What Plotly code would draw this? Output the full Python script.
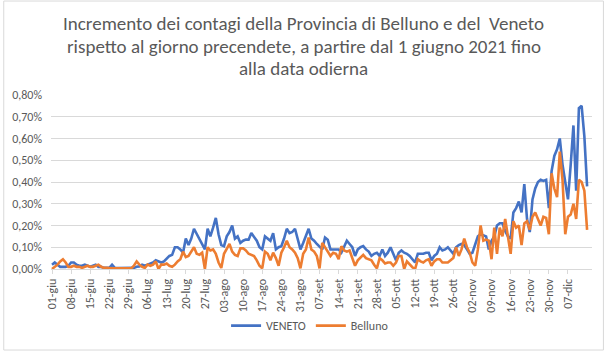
import pandas as pd
import plotly.graph_objects as go

# Daily increase (%) compared to the previous day, from 01-giu-2021
veneto = [
    0.02, 0.03, 0.02, 0.01, 0.01, 0.01, 0.015, 0.03, 0.03, 0.02,
    0.015, 0.015, 0.02, 0.015, 0.01, 0.015, 0.02, 0.01, 0.01, 0.005,
    0.005, 0.005, 0.02, 0.005, 0.004, 0.004, 0.004, 0.004, 0.004, 0.004,
    0.005, 0.01, 0.012, 0.02, 0.015, 0.02, 0.025, 0.03, 0.04, 0.035,
    0.03, 0.035, 0.05, 0.06, 0.065, 0.10, 0.10, 0.09, 0.075, 0.14,
    0.11, 0.14, 0.185, 0.16, 0.14, 0.11, 0.09, 0.185, 0.15, 0.19,
    0.235, 0.16, 0.11, 0.105, 0.15, 0.17, 0.20, 0.14, 0.15, 0.12,
    0.13, 0.135, 0.135, 0.165, 0.15, 0.13, 0.10, 0.09, 0.15, 0.14,
    0.13, 0.165, 0.09, 0.10, 0.105, 0.14, 0.185, 0.165, 0.17, 0.185,
    0.13, 0.09, 0.12, 0.15, 0.185, 0.14, 0.13, 0.115, 0.10, 0.09,
    0.145, 0.135, 0.09, 0.09, 0.09, 0.09, 0.075, 0.10, 0.13, 0.115,
    0.10, 0.06, 0.09, 0.10, 0.105, 0.09, 0.08, 0.06, 0.07, 0.075,
    0.06, 0.09, 0.06, 0.075, 0.10, 0.07, 0.04, 0.075, 0.085, 0.075,
    0.07, 0.06, 0.045, 0.03, 0.07, 0.07, 0.07, 0.075, 0.075, 0.04,
    0.06, 0.07, 0.10, 0.085, 0.09, 0.10, 0.085, 0.07, 0.10, 0.11,
    0.115, 0.11, 0.09, 0.07, 0.075, 0.11, 0.15, 0.16, 0.155, 0.15,
    0.09, 0.13, 0.15, 0.20, 0.21, 0.21, 0.175, 0.15, 0.14, 0.26,
    0.28, 0.31, 0.26, 0.39, 0.23, 0.17, 0.32, 0.37, 0.40, 0.41,
    0.405, 0.41, 0.28, 0.45, 0.52, 0.55, 0.60, 0.48, 0.40, 0.32,
    0.48, 0.66, 0.36, 0.74, 0.75, 0.61, 0.38,
]
belluno = [
    0.0, 0.01, 0.02, 0.035, 0.045, 0.03, 0.01, 0.01, 0.015, 0.01,
    0.01, 0.005, 0.01, 0.015, 0.01, 0.01, 0.015, 0.02, 0.01, 0.005,
    0.005, 0.003, 0.003, 0.003, 0.003, 0.003, 0.003, 0.003, 0.003, 0.003,
    0.015, 0.035, 0.02, 0.01, 0.005, 0.02, 0.015, 0.02, 0.035, 0.0,
    0.02, 0.02, 0.025, 0.015, 0.01, 0.02, 0.035, 0.045, 0.08, 0.055,
    0.06, 0.08, 0.10, 0.07, 0.065, 0.075, 0.0, 0.10, 0.085, 0.09,
    0.07, 0.03, 0.005, 0.07, 0.09, 0.115, 0.08, 0.065, 0.06, 0.095,
    0.095, 0.085, 0.07, 0.065, 0.06, 0.04, 0.015, 0.003, 0.08, 0.07,
    0.04, 0.075, 0.05, 0.015, 0.075, 0.10, 0.13, 0.10, 0.09, 0.075,
    0.05, 0.003, 0.07, 0.09, 0.145, 0.09, 0.08, 0.06, 0.003, 0.12,
    0.10, 0.08, 0.06, 0.075, 0.07, 0.045, 0.105, 0.085, 0.08, 0.085,
    0.05, 0.015, 0.04, 0.055, 0.065, 0.05, 0.045, 0.04, 0.02, 0.003,
    0.05, 0.04, 0.025, 0.03, 0.03, 0.015, 0.03, 0.06, 0.06, 0.0,
    0.035, 0.02, 0.008, 0.0, 0.045, 0.035, 0.03, 0.04, 0.045, 0.015,
    0.035, 0.045, 0.045, 0.03, 0.03, 0.03, 0.04, 0.05, 0.10, 0.06,
    0.09, 0.14, 0.10, 0.075, 0.03, 0.015, 0.09, 0.20, 0.13, 0.135,
    0.13, 0.045, 0.19, 0.07, 0.19, 0.15, 0.23, 0.14, 0.07, 0.22,
    0.19, 0.20, 0.11, 0.21, 0.22, 0.18, 0.24, 0.26, 0.23, 0.20,
    0.24, 0.235, 0.16, 0.44, 0.37, 0.33, 0.54, 0.41, 0.16, 0.24,
    0.25, 0.30, 0.23, 0.41, 0.40, 0.36, 0.18,
]
tick_labels = [
    "01-giu", "08-giu", "15-giu", "22-giu", "29-giu", "06-lug", "13-lug",
    "20-lug", "27-lug", "03-ago", "10-ago", "17-ago", "24-ago", "31-ago",
    "07-set", "14-set", "21-set", "28-set", "05-ott", "12-ott", "19-ott",
    "26-ott", "02-nov", "09-nov", "16-nov", "23-nov", "30-nov", "07-dic",
]
series_names = ["VENETO", "Belluno"]
title_lines = [
    "Incremento dei contagi della Provincia di Belluno e del  Veneto",
    "rispetto al giorno precendete, a partire dal 1 giugno 2021 fino",
    "alla data odierna",
]
start_date = "2021-06-01"

dates = pd.date_range(start_date, periods=len(veneto), freq="D")
tick_vals = pd.date_range(start_date, periods=len(tick_labels), freq="7D")

BLUE = "#4472C4"
ORANGE = "#ED7D31"
GRID = "#D9D9D9"
TXT = "#595959"
FONT = "Carlito, 'Liberation Sans Narrow', 'Arial Narrow', 'Liberation Sans', sans-serif"

fig = go.Figure()
fig.add_trace(go.Scatter(x=dates, y=[v / 100 for v in veneto], mode="lines",
                         name=series_names[0], line=dict(color=BLUE, width=2.6)))
fig.add_trace(go.Scatter(x=dates, y=[v / 100 for v in belluno], mode="lines",
                         name=series_names[1], line=dict(color=ORANGE, width=2.6)))

L, R, T, B = 48, 12, 95, 82
W, H = 604, 352
pw, ph = W - L - R, H - T - B

# title as three centred text lines
annotations = []
for i, line in enumerate(title_lines):
    y_px = 23.5 + i * 22.5  # centre of each line, from top
    annotations.append(dict(
        text=line, xref="paper", yref="paper",
        x=(W / 2 - L) / pw, y=1 + (T - y_px) / ph,
        xanchor="center", yanchor="middle", showarrow=False,
        font=dict(family=FONT, size=19, color=TXT),
    ))

fig.update_layout(
    width=W, height=H,
    margin=dict(l=L, r=R, t=T, b=B),
    paper_bgcolor="white", plot_bgcolor="white",
    separators=",.",
    font=dict(family=FONT, color=TXT, size=12),
    annotations=annotations,
    showlegend=True,
    legend=dict(orientation="h", x=0.5 - 12 / pw, xanchor="center", y=-(327 - 270) / ph,
                yanchor="middle", font=dict(family=FONT, size=12, color=TXT),
                itemwidth=30, bgcolor="rgba(0,0,0,0)"),
    xaxis=dict(
        type="date",
        range=[pd.Timestamp(start_date) - pd.Timedelta(hours=9),
               pd.Timestamp(start_date) + pd.Timedelta(days=197.8)],
        tickmode="array", tickvals=tick_vals, ticktext=tick_labels,
        tickangle=-90, tickfont=dict(family=FONT, size=12, color=TXT),
        showgrid=False, showline=True, linecolor=GRID, linewidth=1,
        ticks="outside", ticklen=4, tickcolor=GRID,
        zeroline=False,
    ),
    yaxis=dict(
        range=[0, 0.008], dtick=0.001, tickformat=".2%",
        tickfont=dict(family=FONT, size=12, color=TXT),
        showgrid=True, gridcolor=GRID, gridwidth=1,
        zeroline=False, showline=False, ticks="", ticklabelstandoff=8,
    ),
    shapes=[dict(
        type="rect", xref="paper", yref="paper",
        x0=-(L - 0.5) / pw, x1=1 + (R - 0.5) / pw,
        y0=-(B - 0.5) / ph, y1=1 + (T - 0.5) / ph,
        line=dict(color=GRID, width=1), fillcolor="rgba(0,0,0,0)", layer="below",
    )],
)

fig.write_html("out.html")
